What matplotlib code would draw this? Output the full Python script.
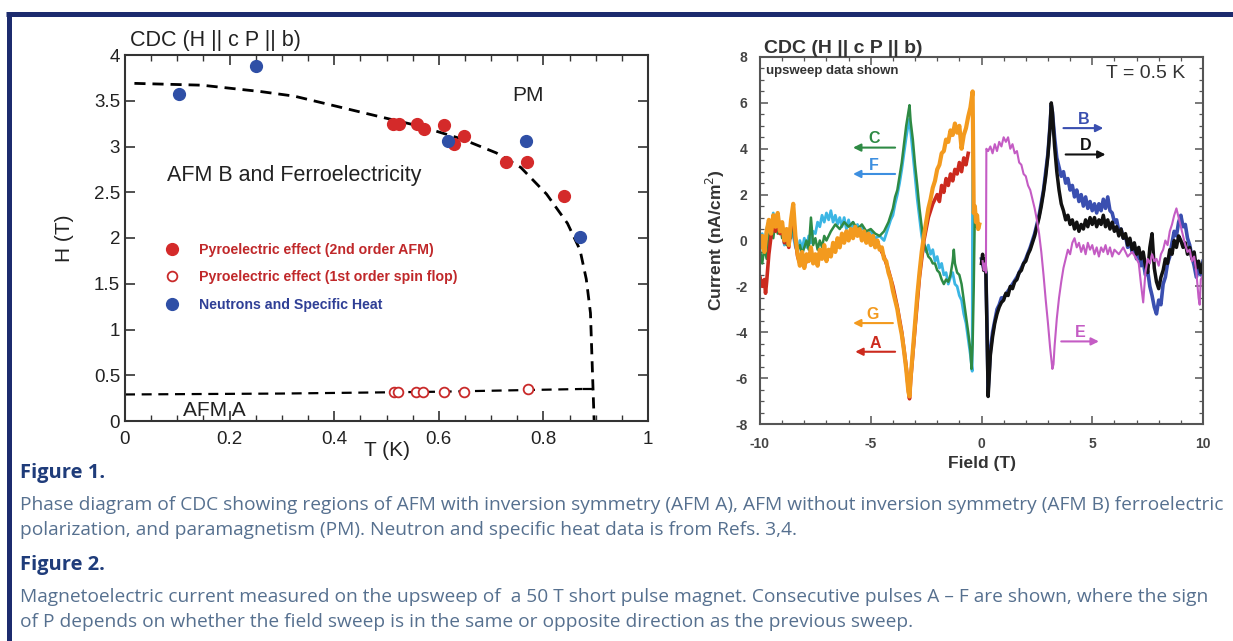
import matplotlib
matplotlib.use("Agg")
import matplotlib.pyplot as plt
from matplotlib.lines import Line2D
from matplotlib.ticker import MultipleLocator, FuncFormatter

W, H = 1233, 641
NAVY = "#1c2b6e"
CAPTION = "#56708f"

# ---------------- Figure 1: phase diagram ----------------
neutron_T = [0.104, 0.251, 0.618, 0.767, 0.870]
neutron_H = [3.57, 3.88, 3.06, 3.06, 2.01]

pyro2_T = [0.513, 0.523, 0.558, 0.571, 0.609, 0.630, 0.649, 0.729, 0.769, 0.840]
pyro2_H = [3.25, 3.25, 3.25, 3.19, 3.23, 3.03, 3.11, 2.83, 2.83, 2.46]

pyro1_T = [0.514, 0.522, 0.557, 0.569, 0.609, 0.649, 0.771]
pyro1_H = [0.32, 0.32, 0.32, 0.32, 0.32, 0.32, 0.35]

upper_T = [0.018, 0.147, 0.26, 0.324, 0.404, 0.484, 0.565, 0.645, 0.71, 0.757,
           0.806, 0.846, 0.870, 0.882, 0.890, 0.894, 0.897]
upper_H = [3.69, 3.67, 3.60, 3.55, 3.44, 3.33, 3.22, 3.08, 2.93, 2.77,
           2.48, 2.16, 1.87, 1.55, 1.18, 0.50, 0.0]
lower_T = [0.0, 0.30, 0.60, 0.875]
lower_H = [0.29, 0.30, 0.32, 0.35]

# ---------------- Figure 2: magnetoelectric current ----------------
G_field = [-10.0, -9.9, -9.8, -9.7, -9.6, -9.5, -9.4, -9.3, -9.2, -9.1, -9.0, -8.9, -8.8, -8.7,
           -8.6, -8.5, -8.4, -8.3, -8.2, -8.1, -8.0, -7.9, -7.8, -7.7, -7.6, -7.5, -7.4, -7.3,
           -7.2, -7.1, -7.0, -6.9, -6.8, -6.7, -6.6, -6.5, -6.4, -6.3, -6.2, -6.1, -6.0, -5.9,
           -5.8, -5.7, -5.6, -5.5, -5.4, -5.3, -5.2, -5.1, -5.0, -4.9, -4.8, -4.7, -4.6, -4.5,
           -4.4, -4.3, -4.2, -4.1, -4.0, -3.9, -3.8, -3.7, -3.6, -3.5, -3.4, -3.3, -3.25, -3.2,
           -3.1, -3.0, -2.9, -2.8, -2.7, -2.6, -2.5, -2.4, -2.3, -2.2, -2.1, -2.0, -1.9, -1.8,
           -1.7, -1.6, -1.5, -1.4, -1.3, -1.2, -1.1, -1.0, -0.9, -0.8, -0.7, -0.6, -0.5, -0.4,
           -0.35, -0.3, -0.25, -0.2, -0.15, -0.1]
G_current = [-0.3, 0.2, -0.5, 0.4, 0.9, 0.3, 1.1, 0.6, 1.2, 0.4, 0.8, 0.0, 0.5, -0.2,
             0.9, 1.6, 0.2, -0.6, -1.1, -0.5, -1.2, -0.6, -0.9, -0.3, -1.0, -0.6, -1.1, -0.4,
             -0.8, -0.2, -0.9, -0.4, -0.7, -0.1, -0.5, 0.1, -0.3, 0.3, -0.1, 0.4, 0.0, 0.5,
             0.1, 0.6, 0.2, 0.5, 0.0, 0.4, -0.1, 0.3, -0.2, 0.2, -0.3, 0.0, -0.4, -0.3,
             -0.8, -0.9, -1.4, -1.7, -2.2, -2.6, -3.0, -3.6, -4.1, -4.8, -5.6, -6.6, -6.8, -6.0,
             -4.8, -3.6, -2.4, -1.4, -0.5, 0.2, 0.8, 1.4, 1.8, 2.3, 2.6, 3.1, 3.3, 3.8,
             3.9, 4.4, 4.3, 4.8, 4.6, 5.1, 4.7, 5.0, 4.0, 4.6, 4.9, 5.4, 5.8, 6.5,
             1.2, 1.5, 0.8, 1.1, 0.5, 0.7]

A_field = [-10.0, -9.9, -9.8, -9.75, -9.7, -9.6, -9.5, -9.4, -9.3, -9.2, -9.1, -9.0, -8.9,
           -8.8, -8.7, -8.6, -8.5, -8.4, -8.3, -8.2, -8.0, -7.8, -7.6, -7.4, -7.2, -7.0, -6.8,
           -6.6, -6.4, -6.2, -6.0, -5.8, -5.6, -5.4, -5.2, -5.0, -4.8, -4.6, -4.4, -4.2, -4.0,
           -3.8, -3.6, -3.4, -3.3, -3.25, -3.2, -3.0, -2.8, -2.6, -2.4, -2.2, -2.0, -1.9, -1.8,
           -1.7, -1.6, -1.5, -1.4, -1.3, -1.2, -1.1, -1.0, -0.9, -0.8, -0.7, -0.6]
A_current = [-1.6, -2.0, -1.7, -2.3, -1.8, -0.6, 0.2, 0.8, 0.4, 1.0, 0.3, 0.6, -0.1,
             0.4, -0.3, 0.7, 1.2, 0.0, -0.7, -1.0, -1.1, -0.7, -0.9, -0.9, -0.6, -0.7, -0.5,
             -0.3, -0.1, 0.1, 0.2, 0.3, 0.3, 0.2, 0.1, 0.0, -0.1, -0.3, -0.7, -1.3, -2.0,
             -2.9, -4.0, -5.5, -6.5, -6.9, -6.1, -3.8, -1.6, 0.0, 1.0, 1.6, 2.0, 1.7, 2.4,
             2.1, 2.7, 2.4, 2.9, 2.6, 3.1, 2.9, 3.4, 3.0, 3.6, 3.3, 3.8]

C_field = [-10.0, -9.9, -9.8, -9.7, -9.6, -9.5, -9.4, -9.3, -9.2, -9.1, -9.0, -8.9, -8.8, -8.7,
           -8.6, -8.5, -8.4, -8.3, -8.2, -8.1, -8.0, -7.9, -7.8, -7.7, -7.6, -7.5, -7.4, -7.3,
           -7.2, -7.1, -7.0, -6.8, -6.6, -6.4, -6.2, -6.0, -5.8, -5.6, -5.4, -5.2, -5.0, -4.8,
           -4.6, -4.4, -4.2, -4.0, -3.9, -3.8, -3.7, -3.6, -3.5, -3.4, -3.3, -3.25, -3.2, -3.1,
           -3.0, -2.9, -2.8, -2.7, -2.6, -2.5, -2.4, -2.3, -2.2, -2.1, -2.0, -1.9, -1.8, -1.7,
           -1.6, -1.5, -1.4, -1.3, -1.25, -1.2, -1.1, -1.0, -0.9, -0.8, -0.7, -0.6, -0.5, -0.45,
           -0.4, -0.35, -0.3, -0.25, -0.2]
C_current = [-0.4, -1.0, -0.3, -0.8, 0.2, 0.6, 0.1, 0.9, 0.3, 0.7, 0.1, 0.3, -0.2, 0.4,
             0.1, 1.2, 0.2, -0.4, -0.2, -0.6, -0.3, 0.0, -0.4, 1.0, -0.2, 0.1, -0.4, 0.0,
             -0.3, 0.2, 0.0, 0.4, 0.7, 0.5, 0.8, 0.6, 0.8, 0.5, 0.7, 0.4, 0.5, 0.3,
             0.2, 0.4, 0.8, 1.4, 1.9, 2.2, 2.8, 3.4, 4.2, 5.0, 5.6, 5.9, 5.2, 4.4,
             3.3, 2.4, 1.4, 0.6, -0.1, -0.4, -0.7, -0.8, -1.0, -1.0, -1.3, -1.4, -1.7, -1.9,
             -1.7, -1.8, -1.5, -0.9, -0.4, -1.0, -1.4, -1.5, -1.9, -2.6, -3.3, -4.0, -4.8, -5.6,
             -4.5, -2.0, 1.4, 0.6, 1.0]

F_field = [-10.0, -9.9, -9.8, -9.7, -9.6, -9.5, -9.4, -9.3, -9.2, -9.1, -9.0, -8.9, -8.8, -8.7,
           -8.6, -8.5, -8.4, -8.3, -8.2, -8.1, -8.0, -7.9, -7.8, -7.7, -7.6, -7.5, -7.4, -7.3,
           -7.2, -7.1, -7.0, -6.9, -6.8, -6.7, -6.6, -6.5, -6.4, -6.3, -6.2, -6.1, -6.0, -5.9,
           -5.8, -5.7, -5.6, -5.5, -5.4, -5.2, -5.0, -4.8, -4.6, -4.4, -4.3, -4.2, -4.1, -4.0,
           -3.9, -3.8, -3.7, -3.6, -3.5, -3.4, -3.3, -3.25, -3.2, -3.1, -3.0, -2.9, -2.8, -2.7,
           -2.6, -2.5, -2.4, -2.3, -2.2, -2.1, -2.0, -1.9, -1.8, -1.7, -1.6, -1.5, -1.4, -1.3,
           -1.2, -1.1, -1.0, -0.9, -0.8, -0.7, -0.6, -0.5, -0.42, -0.4]
F_current = [-0.2, 0.3, -0.2, 0.5, 0.9, 0.4, 1.2, 0.6, 1.0, 0.3, 0.5, -0.2, 0.3, 0.0,
             0.5, 0.2, -0.3, -0.5, 0.0, -0.4, 0.1, -0.3, 0.2, -0.1, 0.4, 0.3, 0.8, 0.6,
             1.1, 0.8, 1.2, 0.9, 1.3, 0.8, 1.1, 0.7, 1.0, 0.6, 1.0, 0.5, 0.9, 0.5,
             0.8, 0.4, 0.7, 0.3, 0.6, 0.3, 0.4, 0.1, 0.2, 0.0, 0.3, 0.6, 0.9, 1.1,
             1.6, 2.0, 2.5, 3.1, 3.8, 4.5, 5.1, 5.3, 4.8, 3.8, 2.8, 1.8, 1.0, 0.2,
             -0.3, -0.5, -0.2, -0.6, -0.4, -0.9, -0.7, -1.2, -1.0, -1.5, -1.4, -1.9, -1.6, -1.4,
             -1.9, -2.0, -2.4, -2.6, -3.2, -3.6, -4.3, -5.0, -5.7, 4.5]

D_field = [0.0, 0.05, 0.1, 0.15, 0.2, 0.25, 0.3, 0.35, 0.4, 0.5, 0.6, 0.7, 0.8, 0.9, 1.0,
           1.1, 1.2, 1.3, 1.4, 1.5, 1.6, 1.7, 1.8, 1.9, 2.0, 2.1, 2.2, 2.3, 2.4, 2.5, 2.6,
           2.7, 2.8, 2.9, 3.0, 3.1, 3.15, 3.2, 3.3, 3.4, 3.5, 3.6, 3.7, 3.8, 3.9, 4.0, 4.1,
           4.2, 4.3, 4.4, 4.5, 4.6, 4.7, 4.8, 4.9, 5.0, 5.1, 5.2, 5.3, 5.4, 5.5, 5.6, 5.7,
           5.8, 5.9, 6.0, 6.1, 6.2, 6.3, 6.4, 6.5, 6.6, 6.7, 6.8, 6.9, 7.0, 7.1, 7.2, 7.3,
           7.4, 7.5, 7.6, 7.7, 7.8, 7.9, 8.0, 8.1, 8.2, 8.3, 8.4, 8.5, 8.6, 8.7, 8.8, 8.9,
           9.0, 9.1, 9.2, 9.3, 9.4, 9.5, 9.6, 9.7, 9.8, 9.9, 10.0]
D_current = [-1.0, -0.6, -1.3, -0.8, -1.5, -4.0, -6.8, -5.9, -5.0, -4.2, -3.6, -3.2, -2.9, -2.7, -2.6,
             -2.3, -2.4, -2.0, -2.1, -1.8, -1.7, -1.4, -1.3, -1.0, -0.9, -0.6, -0.4, -0.1, 0.2, 0.6, 1.0,
             1.5, 2.1, 2.8, 3.7, 5.0, 6.0, 5.6, 4.1, 3.0, 2.2, 1.6, 1.3, 0.9, 1.1, 0.7, 0.9,
             0.5, 0.8, 0.4, 0.7, 0.5, 0.9, 0.6, 1.0, 0.7, 1.0, 0.6, 0.9, 0.7, 1.1, 0.6, 0.9,
             0.5, 0.8, 0.4, 0.6, 0.2, 0.5, 0.1, 0.3, -0.2, 0.1, -0.4, -0.1, -0.6, -0.3, -0.8, -0.5,
             -1.1, -1.4, -0.3, 0.3, -1.2, -1.8, -2.1, -1.6, -1.3, -0.8, -1.0, -0.4, -0.6, 0.0, -0.3, 0.2,
             0.0, -0.3, -0.1, -0.6, -0.3, -0.8, -0.5, -1.2, -0.9, -1.4, -1.0]

B_field = [0.0, 0.1, 0.2, 0.25, 0.3, 0.35, 0.4, 0.5, 0.6, 0.7, 0.8, 0.9, 1.0, 1.2, 1.4,
           1.6, 1.8, 2.0, 2.2, 2.4, 2.6, 2.8, 3.0, 3.1, 3.15, 3.2, 3.3, 3.4, 3.5, 3.6, 3.7,
           3.8, 3.9, 4.0, 4.1, 4.2, 4.3, 4.4, 4.5, 4.6, 4.7, 4.8, 4.9, 5.0, 5.1, 5.2, 5.3,
           5.4, 5.5, 5.6, 5.7, 5.8, 5.9, 6.0, 6.1, 6.2, 6.3, 6.4, 6.5, 6.6, 6.7, 6.8, 6.9,
           7.0, 7.1, 7.2, 7.3, 7.4, 7.5, 7.6, 7.7, 7.8, 7.9, 8.0, 8.1, 8.2, 8.3, 8.4, 8.5,
           8.6, 8.7, 8.8, 8.9, 9.0, 9.1, 9.2, 9.3, 9.4, 9.5, 9.6, 9.7, 9.8, 9.9, 10.0]
B_current = [-0.8, -1.2, -1.4, -3.8, -6.5, -5.7, -4.8, -4.0, -3.5, -3.0, -2.8, -2.5, -2.5, -2.2, -1.9,
             -1.6, -1.2, -0.8, -0.3, 0.3, 1.1, 2.2, 3.8, 5.1, 5.9, 5.6, 4.5, 3.6, 3.2, 2.8, 3.0,
             2.5, 2.7, 2.2, 2.4, 1.9, 2.2, 1.7, 2.0, 1.5, 1.9, 1.4, 1.7, 1.3, 1.6, 1.2, 1.6,
             1.3, 1.8, 1.4, 1.9, 1.3, 1.2, 0.8, 0.9, 0.4, 0.5, 0.1, 0.2, -0.3, 0.0, -0.5, -0.3,
             -0.8, -0.5, -1.1, -0.9, -1.5, -1.3, -2.0, -2.4, -2.9, -3.2, -2.6, -2.8, -1.9, -1.6, -1.0, -0.7,
             -0.1, 0.4, 0.2, 0.8, 1.1, 0.6, 0.7, 0.1, -0.2, -0.7, -1.1, -1.6, -1.2, -1.5, -0.9]

E_field = [0.05, 0.1, 0.15, 0.2, 0.22, 0.3, 0.4, 0.5, 0.6, 0.7, 0.8, 0.9, 1.0, 1.1, 1.2,
           1.3, 1.4, 1.5, 1.6, 1.7, 1.8, 1.9, 2.0, 2.1, 2.2, 2.3, 2.4, 2.5, 2.6, 2.7, 2.8,
           2.9, 3.0, 3.1, 3.2, 3.25, 3.3, 3.4, 3.5, 3.6, 3.7, 3.8, 3.9, 4.0, 4.1, 4.2, 4.3,
           4.4, 4.5, 4.6, 4.7, 4.8, 4.9, 5.0, 5.1, 5.2, 5.3, 5.4, 5.5, 5.6, 5.7, 5.8, 5.9,
           6.0, 6.2, 6.4, 6.6, 6.8, 7.0, 7.1, 7.2, 7.3, 7.4, 7.5, 7.6, 7.7, 7.8, 7.9, 8.0,
           8.1, 8.2, 8.3, 8.4, 8.5, 8.6, 8.7, 8.8, 8.9, 9.0, 9.1, 9.2, 9.3, 9.4, 9.5, 9.6,
           9.7, 9.8, 9.85, 9.9, 10.0]
E_current = [-0.9, -1.3, -1.0, -1.4, 4.0, 3.9, 4.1, 3.8, 4.2, 3.9, 4.3, 4.1, 4.5, 4.3, 4.5,
             4.0, 4.2, 3.8, 3.9, 3.4, 3.3, 2.9, 2.8, 2.4, 2.2, 1.8, 1.4, 0.9, 0.3, -0.5, -1.5,
             -2.6, -3.6, -4.7, -5.6, -5.4, -4.6, -3.4, -2.5, -1.8, -1.2, -0.8, -0.4, -0.6, -0.1, 0.1, -0.3,
             -0.1, -0.5, -0.2, -0.6, -0.1, -0.4, -0.2, -0.6, -0.3, -0.7, -0.3, -0.5, -0.2, -0.6, -0.3, -0.7,
             -0.4, -0.6, -0.3, -0.7, -0.5, -0.8, -1.0, -1.9, -2.7, -1.4, -0.8, -1.0, -0.6, -0.9, -0.8, -1.1,
             -0.6, -0.4, 0.0, -0.2, 0.4, 0.7, 1.1, 1.4, 1.0, 0.6, 0.2, -0.2, -0.5, -0.4, -0.9, -0.7,
             -1.4, -2.5, -2.8, -1.7, -1.5]

# arrow labels: letter, colour, arrow height, arrow start and end field
arrow_labels = ["C", "F", "G", "A", "B", "D", "E"]
arrow_colors = ["#2e8a44", "#3d8fe0", "#f39a1e", "#cc2a1e", "#3a4fb0", "#111111", "#c45cc4"]
arrow_y = [4.05, 2.9, -3.6, -4.85, 4.9, 3.75, -4.4]
arrow_x0 = [-3.9, -3.9, -4.0, -3.9, 3.7, 3.8, 3.6]
arrow_x1 = [-5.8, -5.8, -5.8, -5.7, 5.5, 5.6, 5.3]

fig = plt.figure(figsize=(W / 100, H / 100), dpi=100)
fig.patch.set_facecolor("white")


def fx(px):
    return px / W


def fy(py):
    return 1 - py / H


# border
fig.add_artist(Line2D([fx(6), fx(W)], [fy(14), fy(14)], color=NAVY, lw=3.6, solid_capstyle="butt"))
fig.add_artist(Line2D([fx(8.5), fx(8.5)], [fy(12), fy(H)], color=NAVY, lw=3.6, solid_capstyle="butt"))

fmt = FuncFormatter(lambda v, p: f"{v:g}")

# ---------------- left panel ----------------
ax1 = fig.add_axes([fx(125), fy(421), (648 - 125) / W, (421 - 55) / H])
ax1.plot(upper_T, upper_H, color="black", lw=2, linestyle=(0, (4, 2.5)))
ax1.plot(lower_T, lower_H, color="black", lw=1.6, linestyle=(0, (4.5, 3)))
ax1.plot([lower_T[-1], 0.897], [lower_H[-1], lower_H[-1]], color="black", lw=1.6, linestyle=(0, (4.5, 3)))
h_red, = ax1.plot(pyro2_T, pyro2_H, "o", color="#d42a2a", ms=8.5, mec="#d42a2a", zorder=3)
h_open, = ax1.plot(pyro1_T, pyro1_H, "o", mfc="white", mec="#c92a2a", mew=1.3, ms=7, zorder=3)
h_blue, = ax1.plot(neutron_T, neutron_H, "o", color="#2f4fa6", ms=8.5, zorder=3)

ax1.set_xlim(0, 1)
ax1.set_ylim(0, 4)
ax1.xaxis.set_major_locator(MultipleLocator(0.2))
ax1.xaxis.set_minor_locator(MultipleLocator(0.05))
ax1.yaxis.set_major_locator(MultipleLocator(0.5))
ax1.xaxis.set_major_formatter(fmt)
ax1.yaxis.set_major_formatter(fmt)
ax1.tick_params(which="both", direction="in", top=True, right=True, colors="#333333",
                labelsize=13.5, labelcolor="#222222")
ax1.tick_params(which="major", length=7, width=1.2)
ax1.tick_params(which="minor", length=4, width=1.0)
ax1.tick_params(axis="x", pad=7)
for lab in ax1.get_xticklabels() + ax1.get_yticklabels():
    lab.set_family("Liberation Sans")
for s in ax1.spines.values():
    s.set_color("#333333")
    s.set_linewidth(1.5)
ax1.set_xlabel("T (K)", fontsize=15, family="Liberation Sans", color="#222222", labelpad=-5)
ax1.set_ylabel("H (T)", fontsize=15, family="Liberation Sans", color="#222222", labelpad=14)
ax1.text(0.01, 1.012, "CDC (H || c P || b)", transform=ax1.transAxes, fontsize=15.5,
         family="Liberation Sans", color="#222222", va="bottom")
ax1.text(0.77, 3.56, "PM", fontsize=15, family="Liberation Sans", ha="center", va="center", color="#222222")
ax1.text(0.08, 2.68, "AFM B and Ferroelectricity", fontsize=15.5, family="Liberation Sans",
         va="center", color="#222222")
ax1.text(0.11, 0.11, "AFM A", fontsize=15, family="Liberation Sans", va="center", color="#222222")
ax1.legend([h_red, h_open, h_blue],
           ["Pyroelectric effect (2nd order AFM)",
            "Pyroelectric effect (1st order spin flop)",
            "Neutrons and Specific Heat"],
           loc="upper left", bbox_to_anchor=(0.065, 0.506), frameon=False,
           handlelength=0.8, handletextpad=1.5, labelspacing=0.95, borderpad=0,
           prop={"family": "Liberation Sans", "weight": "bold", "size": 10.2},
           labelcolor=["#c0282a", "#c0282a", "#2f3f96"])

# ---------------- right panel ----------------
ax2 = fig.add_axes([fx(760), fy(424), (1203 - 760) / W, (424 - 57) / H])
ax2.plot(F_field, F_current, color="#3bb6e4", lw=2.0)
ax2.plot(C_field, C_current, color="#2e8a44", lw=1.8)
ax2.plot(A_field, A_current, color="#cc2a1e", lw=2.6)
ax2.plot(G_field, G_current, color="#f39a1e", lw=3.0)
ax2.plot(B_field, B_current, color="#3a4fb0", lw=2.6)
ax2.plot(D_field, D_current, color="#111111", lw=2.5)
ax2.plot(E_field, E_current, color="#c45cc4", lw=1.5)

for lab, col, yv, x0, x1 in zip(arrow_labels, arrow_colors, arrow_y, arrow_x0, arrow_x1):
    ax2.annotate("", xy=(x1, yv), xytext=(x0, yv),
                 arrowprops=dict(arrowstyle="-|>", color=col, lw=1.5, mutation_scale=11,
                                 shrinkA=0, shrinkB=0))
    ax2.text((x0 + x1) / 2, yv + 0.05, lab, color=col, fontsize=11.5, fontweight="bold",
             ha="center", va="bottom", family="Liberation Sans")

ax2.set_xlim(-10, 10)
ax2.set_ylim(-8, 8)
ax2.xaxis.set_major_locator(MultipleLocator(5))
ax2.xaxis.set_minor_locator(MultipleLocator(1))
ax2.yaxis.set_major_locator(MultipleLocator(2))
ax2.yaxis.set_minor_locator(MultipleLocator(0.5))
ax2.xaxis.set_major_formatter(fmt)
ax2.yaxis.set_major_formatter(fmt)
ax2.tick_params(which="both", direction="in", top=True, right=True, colors="#555555",
                labelsize=10, labelcolor="#444444", pad=9)
ax2.tick_params(which="major", length=6, width=1.1)
ax2.tick_params(which="minor", length=3, width=0.9)
for lab in ax2.get_xticklabels() + ax2.get_yticklabels():
    lab.set_fontweight("bold")
    lab.set_family("Liberation Sans")
for s in ax2.spines.values():
    s.set_color("#555555")
    s.set_linewidth(1.5)
ax2.set_xlabel("Field (T)", fontsize=12.5, fontweight="bold", family="Liberation Sans",
               color="#333333", labelpad=4)
ax2.set_ylabel("Current (nA/cm$^2$)", fontsize=12.5, fontweight="bold", family="Liberation Sans",
               color="#333333", labelpad=6)
ax2.text(0.008, 1.0, "CDC (H || c P || b)", transform=ax2.transAxes, fontsize=14,
         fontweight="bold", family="Liberation Sans", color="#333333", va="bottom")
ax2.text(0.014, 0.978, "upsweep data shown", transform=ax2.transAxes, fontsize=9.5,
         fontweight="bold", family="Liberation Sans", color="#333333", va="top")
ax2.text(0.96, 0.978, "T = 0.5 K", transform=ax2.transAxes, fontsize=14,
         family="Liberation Sans", color="#333333", va="top", ha="right")

# ---------------- captions ----------------
cap_font = "Open Sans"
cap_size = 13.8
fig.text(fx(20), fy(473), "Figure 1.", fontsize=14.5, fontweight="bold", color="#1f3c7a",
         family=cap_font, va="center")
fig.text(fx(20), fy(505), "Phase diagram of CDC showing regions of AFM with inversion symmetry (AFM A), "
         "AFM without inversion symmetry (AFM B) ferroelectric", fontsize=cap_size, color=CAPTION,
         family=cap_font, va="center")
fig.text(fx(20), fy(530), "polarization, and paramagnetism (PM). Neutron and specific heat data is from Refs. 3,4.",
         fontsize=cap_size, color=CAPTION, family=cap_font, va="center")
fig.text(fx(20), fy(565), "Figure 2.", fontsize=14.5, fontweight="bold", color="#1f3c7a",
         family=cap_font, va="center")
fig.text(fx(20), fy(597), "Magnetoelectric current measured on the upsweep of  a 50 T short pulse magnet. "
         "Consecutive pulses A \u2013 F are shown, where the sign", fontsize=cap_size, color=CAPTION,
         family=cap_font, va="center")
fig.text(fx(20), fy(622), "of P depends on whether the field sweep is in the same or opposite direction "
         "as the previous sweep.", fontsize=cap_size, color=CAPTION, family=cap_font, va="center")

fig.savefig("out.png", dpi=100)
